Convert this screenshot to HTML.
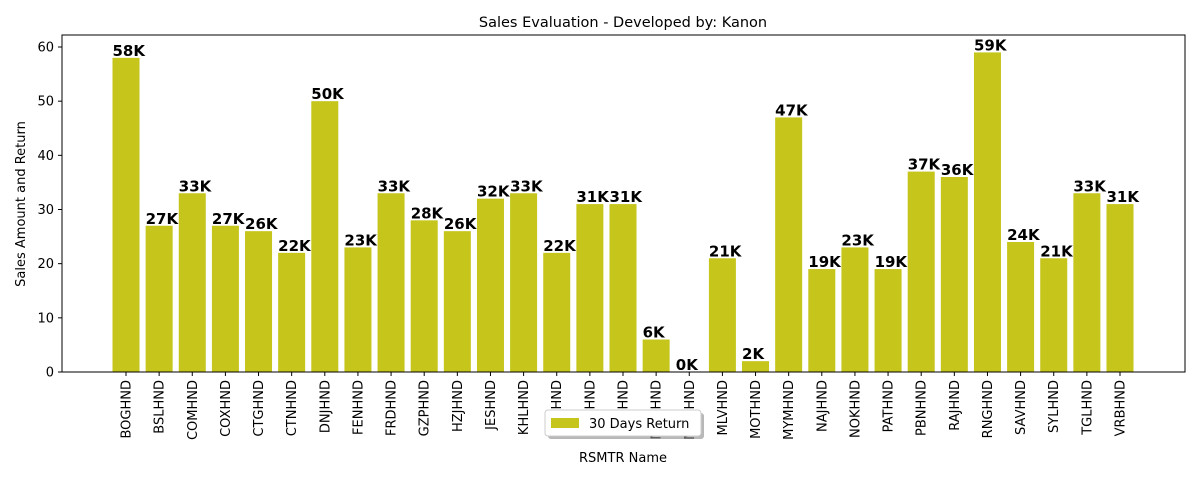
<!DOCTYPE html>
<html><head><meta charset="utf-8"><style>
body{margin:0;background:#fff;font-family:"Liberation Sans","DejaVu Sans",sans-serif}
</style></head><body>
<svg id="chart" width="1200" height="480" xmlns="http://www.w3.org/2000/svg" font-family="DejaVu Sans, Liberation Sans, sans-serif">
<text x="623" y="27" font-size="14.5" text-anchor="middle">Sales Evaluation - Developed by: Kanon</text>
<g id="plot"></g>
<rect x="62" y="35" width="1123" height="337" fill="none" stroke="#000" stroke-width="1"/>
<text transform="translate(25,204) rotate(-90)" font-size="13" text-anchor="middle">Sales Amount and Return</text>
<text x="623" y="462" font-size="13" text-anchor="middle">RSMTR Name</text>
<g>
<rect x="548" y="413" width="156" height="26" rx="3" fill="#888" opacity="0.6"/>
<rect x="545" y="410" width="156" height="26" rx="3" fill="#fff" stroke="#ccc"/>
<rect x="551" y="418" width="28" height="10" fill="#c5c51b"/>
<text x="589" y="428" font-size="13">30 Days Return</text>
</g>
</svg>
<script>
const categories=["BOGHND","BSLHND","COMHND","COXHND","CTGHND","CTNHND","DNJHND","FENHND","FRDHND","GZPHND","HZJHND","JESHND","KHLHND","KRGHND","KSGHND","KUSHND","MADHND","MGRHND","MLVHND","MOTHND","MYMHND","NAJHND","NOKHND","PATHND","PBNHND","RAJHND","RNGHND","SAVHND","SYLHND","TGLHND","VRBHND"];
const values=[58,27,33,27,26,22,50,23,33,28,26,32,33,22,31,31,6,0,21,2,47,19,23,19,37,36,59,24,21,33,31];
const yTicks=[0,10,20,30,40,50,60];
const NS="http://www.w3.org/2000/svg";
const g=document.getElementById('plot');
const x0=126,step=(1120-126)/30,bw=27;
const xs=i=>x0+i*step;
const ys=v=>372-v*(325/60);
function mk(t,a){const e=document.createElementNS(NS,t);for(const k in a)e.setAttribute(k,a[k]);g.appendChild(e);return e;}
yTicks.forEach(v=>{
 const l=mk('line',{x1:58,x2:62,y1:ys(v),y2:ys(v),stroke:'#000'});
 
 
 const t=mk('text',{x:54,y:ys(v)+4.5,'font-size':13,'text-anchor':'end'});t.textContent=v;
 
 
});
categories.forEach((c,i)=>{
 const v=values[i],cx=xs(i);
 const r=mk('rect',{x:cx-bw/2,y:ys(v),width:bw,height:372-ys(v),fill:'#c5c51b'});
 
 
 const lt=mk('text',{x:cx-bw/2,y:ys(v)-2,'font-size':15,'font-weight':'bold'});lt.textContent=v+'K';
 
 
 const tk=mk('line',{x1:cx,x2:cx,y1:372,y2:376,stroke:'#000'});
 
 
 const t=mk('text',{transform:`translate(${cx+4.5},380) rotate(-90)`,'font-size':13,'text-anchor':'end'});t.textContent=c;
 
 
});
</script>
</body></html>
